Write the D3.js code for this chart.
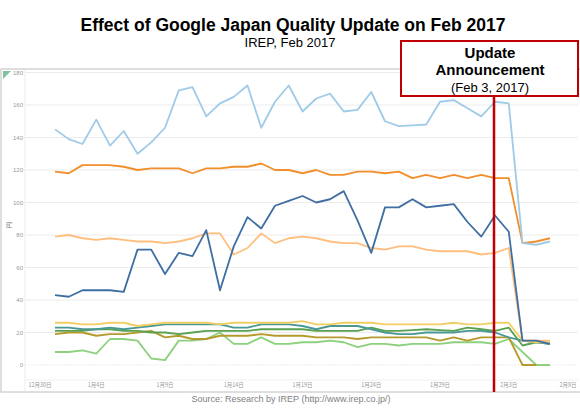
<!DOCTYPE html>
<html><head><meta charset="utf-8">
<script src="https://cdn.jsdelivr.net/npm/d3@7"></script>
<style>body{margin:0;background:#fff}svg{display:block}</style>
</head><body><svg id="c" width="580" height="408"></svg>
<script>
const startDate = "2017-01-01";
const dayCount = 37;
const tickDates = ["2016-12-30","2017-01-04","2017-01-09","2017-01-14","2017-01-19","2017-01-24","2017-01-29","2017-02-03","2017-02-08"];
const tickLabels = ["12月30日","1月4日","1月9日","1月14日","1月19日","1月24日","1月29日","2月3日","2月8日"];
const yTicks = [0,20,40,60,80,100,120,140,160,180];

const lightBlue = [145,139,136,151,135,144,130,137,146,169,171,153,161,165,172,146,162,172,156,164,167,156,157,168,150,147,147.5,148,162,163,158,153,162,161,75,74,76];
const orange = [119,118,123,123,123,122,120,121,121,121,118,121,121,122,122,124,120,120,118,120,117,117,119,119,118,119,115,117,115,117,115,117,115,115,75,76,78];
const darkBlue = [43,42,46,46,46,45,71,71,56,69,67,83,46,73,91,84,98,101,104,100,102,107,89,69,97,97,102,97,98,99,88,79,92,82,15,15,13];
const peach = [79,80,78,77,78,77,76,76,75,76,78,81,81,68,72,81,75,78,79,78,76,75,75,72,71,73,73,71,70,70,70,68,69,72,15,15,15];
const yellow = [26,26,25,25,26,26,24,25,26,26,26,26,25,26,26,26,26,26,27,25,25,26,26,26,25,25,25,25,25,26,25,25,26,26,15,14,14];
const teal = [23,23,22,22,23,22,23,24,25,25,25,25,25,23,23,25,25,25,24,22,24,24,24,22,20,19,19,20,20,20,21,21,20,17,15,14,13];
const darkGreen = [21,21,21,22,22,21,21,20,20,19,20,21,21,21,21,22,22,22,22,21,21,21,21,23,21,21,21.5,22,21.5,21,23,22,21,23,12,14,13];
const brown = [19,20,20,18,19,19,20,21,17,18,16,16,18,18,18,19,18,18,18,17,17,17,16,17,17,17,17,17,15,17,15,17,17,17,0,0,null];
const lightGreen = [8,8,9,7,16,16,15,4,3,15,15,16,20,13,13,17,13,13,14,14,15,14,11,13,13,12,13,13,13,14,14,14,13,16,8,0,0];

const seriesNames = ["lightGreen","brown","darkGreen","teal","yellow","peach","darkBlue","orange","lightBlue"];
const seriesValues = [lightGreen,brown,darkGreen,teal,yellow,peach,darkBlue,orange,lightBlue];
const seriesColors = ["#8cd17d","#b6992d","#59a14f","#499894","#f1ce63","#ffbe7d","#3f6ea3","#f28e2b","#a0cbe8"];

const svg = d3.select("#c");
const p = d3.utcParse("%Y-%m-%d");
const d0 = p(startDate);
const dates = d3.range(dayCount).map(i => d3.utcDay.offset(d0, i));

const x = d3.scaleUtc().domain([dates[0], dates[dayCount-1]]).range([55, 550]);
const y = d3.scaleLinear().domain([0,180]).range([365, 72.5]);

// panel frame
svg.append("rect").attr("x",1).attr("y",69).attr("width",590).attr("height",323)
  .attr("fill","none").attr("stroke","#d4d4d4").attr("stroke-width",1.5);
svg.append("path").attr("d","M3,71 L11,71 L3,79 Z").attr("fill","#7fc29b");

// grid
const plotL = 25, plotR = 578;
svg.append("g").selectAll("line").data(yTicks).join("line")
  .attr("x1",plotL).attr("x2",plotR).attr("y1",d=>y(d)).attr("y2",d=>y(d))
  .attr("stroke","#ececec").attr("stroke-width",1).attr("stroke-dasharray",d=>d===0?"2,1":null);
svg.append("line").attr("x1",plotL).attr("x2",plotL).attr("y1",70).attr("y2",391).attr("stroke","#ececec");
svg.append("line").attr("x1",plotL).attr("x2",plotR).attr("y1",380).attr("y2",380).attr("stroke","#f0f0f0");

svg.append("g").selectAll("text").data(yTicks).join("text")
  .attr("x",23).attr("y",d=>y(d)+2).attr("text-anchor","end")
  .attr("font-family","Liberation Sans, Arial, sans-serif").attr("font-size",6).attr("fill","#999")
  .text(d=>d);
svg.append("text").attr("transform","translate(11,225) rotate(-90)").attr("text-anchor","middle")
  .attr("font-family","Noto Sans CJK JP, sans-serif").attr("font-size",6).attr("fill","#666").text("円");

svg.append("g").selectAll("text").data(tickDates).join("text")
  .attr("x",d=>Math.max(40, Math.min(568, x(p(d))))).attr("y",387).attr("text-anchor","middle")
  .attr("font-family","Noto Sans CJK JP, sans-serif").attr("font-size",5.5).attr("fill","#999")
  .text((d,i)=>tickLabels[i]);

// lines
const line = d3.line().defined(d=>d[1]!==null).x(d=>x(d[0])).y(d=>y(d[1]));
svg.append("g").selectAll("path").data(seriesValues).join("path")
  .attr("d", v => line(v.map((val,i)=>[dates[i], val])))
  .attr("fill","none").attr("stroke",(d,i)=>seriesColors[i]).attr("stroke-width",1.8)
  .attr("stroke-linejoin","round");

// titles
svg.append("text").attr("x",293).attr("y",31).attr("text-anchor","middle")
  .attr("font-family","Liberation Sans, Arial, sans-serif").attr("font-weight","bold").attr("font-size",17.5).attr("fill","#000")
  .text("Effect of Google Japan Quality Update on Feb 2017");
svg.append("text").attr("x",290).attr("y",47).attr("text-anchor","middle")
  .attr("font-family","Liberation Sans, Arial, sans-serif").attr("font-size",13).attr("fill","#000")
  .text("IREP, Feb 2017");

// annotation
svg.append("line").attr("x1",494).attr("x2",494).attr("y1",96).attr("y2",392)
  .attr("stroke","#c00000").attr("stroke-width",2.5);
svg.append("rect").attr("x",401).attr("y",41).attr("width",177).attr("height",55)
  .attr("fill","#fff").attr("stroke","#c00000").attr("stroke-width",2);
svg.append("text").attr("x",490).attr("y",58).attr("text-anchor","middle")
  .attr("font-family","Liberation Sans, Arial, sans-serif").attr("font-weight","bold").attr("font-size",15).text("Update");
svg.append("text").attr("x",490).attr("y",75).attr("text-anchor","middle")
  .attr("font-family","Liberation Sans, Arial, sans-serif").attr("font-weight","bold").attr("font-size",15).text("Announcement");
svg.append("text").attr("x",490).attr("y",92).attr("text-anchor","middle")
  .attr("font-family","Liberation Sans, Arial, sans-serif").attr("font-size",13).text("(Feb 3, 2017)");

svg.append("text").attr("x",291).attr("y",402).attr("text-anchor","middle")
  .attr("font-family","Liberation Sans, Arial, sans-serif").attr("font-size",9).attr("fill","#808080")
  .text("Source: Research by IREP (http://www.irep.co.jp/)");
</script></body></html>
